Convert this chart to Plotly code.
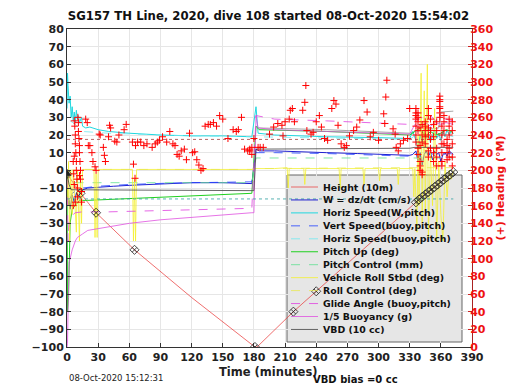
import numpy as np
import plotly.graph_objects as go

# ---------------- data ----------------
height_t = [0, 13, 28, 65, 120, 181, 183, 218, 260, 300, 340, 372]
height_v = [-2, -13, -24, -45, -72, -100, -100, -80, -58, -37, -16, -1]

marker_t = [0, 13, 28, 65, 181, 218, 240, 336, 339, 342, 345, 348, 351, 354, 357, 360, 363, 366, 369, 372]

w_t = [0, 1, 2, 3, 5, 7, 9, 11, 13, 15, 20, 30, 45, 60, 80, 100, 120, 150, 170, 178, 182, 185, 200, 220, 250,
       280, 310, 330, 333, 336, 338, 340, 342, 344, 346, 348, 350, 352, 354, 356, 358, 360, 362, 364, 366, 368, 370, 372]
w_v = [-2, -20, -17, -22, -14, -18, -13, -16, -12, -11, -10, -9.5, -9, -8.5, -8, -7.5, -7, -7, -7.5, -7.5, 12, 11, 11, 10.5, 10,
       9.5, 8.8, 8.5, 9, 11, 5, 10, 3, 9, 11, 8, 10, 6, 11, 9, 10, 5, 9, 10, 8, 11, 10, 9]

hs_w_t = [0, 0.5, 1, 2, 3, 4, 5, 6, 7, 8, 9, 10, 11, 12, 14, 15, 18, 22, 30, 40, 60, 90, 120, 150, 178, 182, 184,
          200, 250, 300, 330, 333, 336, 338, 340, 342, 344, 346, 348, 350, 352, 354, 356, 358, 360, 362, 364, 366, 368, 370, 372]
hs_w_v = [35, 55, 48, 38, 42, 30, 36, 28, 33, 27, 34, 29, 31, 27, 30, 25, 24, 24.5, 23, 22, 21, 20, 19.5, 19.5, 19, 36, 21,
          20, 19, 18.5, 18, 22, 17, 12, 20, 16, 22, 18, 21, 16, 20, 23, 18, 21, 17, 22, 19, 23, 20, 22, 21]

vs_b_t = [3, 5, 10, 15, 30, 60, 100, 140, 178, 182, 200, 250, 300, 330, 336, 340, 345, 350, 355, 360, 365, 372]
vs_b_v = [-16, -13, -11, -10, -9, -8, -7.2, -6.8, -6.5, 10, 10, 9.5, 8.8, 8, 10, 6, 9, 10, 8, 7, 10, 9]

hs_b_t = [3, 8, 15, 40, 100, 178, 183, 250, 330, 336, 342, 348, 354, 360, 366, 372]
hs_b_v = [28, 26, 22, 21, 19.8, 19, 19, 18, 17.5, 20, 15, 19, 21, 18, 20, 19]

pitch_t = [0, 0.5, 1.5, 3, 5, 8, 12, 20, 60, 120, 178, 182, 185, 250, 330, 335, 340, 345, 350, 355, 360, 365, 370, 372]
pitch_v = [0, -80, -72, -30, -22, -20, -17, -17, -16, -14.5, -13, 25, 23, 22, 20, 22, 24, 19, 22, 20, 21, 23, 22, 21]

pitch_ctl_t = [0, 2, 15, 178, 182, 330, 372]
pitch_ctl_v = [0, -7, -7, -7, 7, 7, 7]

roll_t = [0, 1, 1.5, 2.5, 3.5, 5, 6, 9, 10, 12, 13, 14, 15, 26, 27, 28, 29, 30, 63, 64, 65, 66, 67, 178, 182, 200,
          212, 213, 214, 228, 229, 230, 262, 263, 264, 285, 286, 287, 300, 301, 302, 318, 319, 320, 333, 334, 335,
          337, 338, 339, 341, 342, 344, 345, 347, 348, 350, 352, 354, 356, 358, 360, 362, 364, 366, 368, 370, 372]
roll_v = [0, -20, 5, -40, 0, -25, 0, -35, 0, -40, 0, -30, 0.5, 0.5, -38, -2, -38, 0.5, 0.5, -40, -5, -40, 0.5, 0.5, 1, 1,
          1.5, -10, 1, 1, -8, 1, 1, -10, 1, 1, -8, 1, 1, -6, 1, 1, -8, 1, 1, -15, 1,
          -35, 20, -20, 55, -30, 45, -25, 60, -38, 10, -20, 35, -40, 5, -25, -40, 5, -15, 0, -5, 0]

roll_ctl_t = [0, 15, 178, 182, 330, 372]
roll_ctl_v = [0, 0.5, 0.5, 1, 1.5, 1.5]

glide_t = [0, 1, 2, 4, 8, 15, 40, 100, 178, 182, 200, 250, 300, 330, 335, 340, 345, 350, 355, 360, 365, 370, 372]
glide_v = [-5, -40, -28, -26, -24, -23.5, -23.5, -22.5, -21.5, 31, 29, 28, 27, 26, 28, 30, 29, 31, 28, 30, 29, 28, 28]

buoy_t = [0, 0.5, 1, 1.5, 2, 3, 5, 8, 10, 15, 20, 30, 45, 60, 90, 120, 150, 178, 180, 182, 184, 200, 250, 300, 330,
          335, 340, 345, 350, 355, 360, 365, 370, 372]
buoy_v = [-100, -98, -80, -55, -52, -50, -45, -40, -38, -36, -34, -33, -31.5, -30, -28, -26.5, -25, -24, -24, 31, 24, 23,
          22, 21, 20.5, 26, 24, 27, 25, 27, 26, 27, 26, 26]

vbd_t = [0, 2, 4, 180, 182, 330, 335, 372]
vbd_v = [-2, -8, -11, -11.5, 12, 12.5, 13, 13]

gray_t = [184, 250, 330, 335, 358, 360, 372]
gray_v = [24, 23, 21, 22, 24, 33, 33.5]

ref_low_t = [0, 372]
ref_low_v = [-16.2, -16.2]
head_ref_t = [0, 372]
head_ref_deg = [235, 235]

head_t = [7, 7.5, 8, 8, 8.5, 9, 9, 9.5, 10, 10, 7, 6, 6.5, 7, 11, 11, 11.5, 12, 12, 12.5, 13, 13, 14, 14, 8, 6, 10.5, 12,
          18, 19.5, 20.5, 22, 24, 25, 27, 28, 31, 32, 35, 36, 37, 40, 41, 42, 46, 48, 50, 55, 57, 63, 64, 65.5, 66, 68,
          71, 74, 77, 82, 85, 87, 89, 92, 96, 99, 102, 104, 106, 108, 110, 113, 115, 118, 121, 123, 125, 127, 129,
          131, 133, 136, 138, 141, 144, 147, 150, 155, 160, 163, 165, 168, 171, 174, 176, 178, 180,
          176, 178, 184, 186, 189, 195, 199, 203, 207, 208, 210, 214, 215, 217, 219, 227, 229, 230, 231, 235, 237, 240,
          243, 245, 248, 251, 255, 257, 259, 261, 264, 267, 269, 272, 276, 279, 282, 286, 289, 292, 295, 300, 305,
          306, 307, 308, 314, 316, 317, 319, 321, 324, 328, 330,
          336, 336, 336, 336, 336, 336, 336, 338, 338, 338, 338, 338, 338, 340, 340, 340, 340, 340, 342, 342, 342,
          342, 342, 345, 345, 345, 345, 345, 348, 348, 348, 348, 348, 348, 350, 350, 350, 350, 353, 353, 353, 353,
          356, 356, 356, 356, 356, 359, 359, 359, 359, 359, 359, 359, 361, 361, 361, 361, 361, 361, 363, 363, 363,
          363, 366, 366, 366, 366, 368, 368, 368, 368, 368, 371, 371, 371, 371, 371]
head_deg = [256, 250, 240, 230, 220, 210, 200, 190, 180, 170, 216, 210, 196, 184, 254, 244, 236, 228, 220, 210, 200,
            190, 176, 164, 164, 160, 260, 194,
            258, 254, 228, 228, 220, 210, 204, 200, 241, 240, 226, 217, 210, 238, 251, 248, 233, 232, 240, 246, 252,
            232, 207, 191, 228, 232, 232, 228, 230, 226, 230, 232, 234, 238, 232, 244, 230, 228, 218, 216, 222, 224,
            212, 242, 220, 221, 212, 206, 200, 202, 250, 252, 252, 254, 250, 262, 258, 236, 246, 244, 246, 260, 224,
            222, 222, 218, 236,
            224, 226, 226, 226, 226, 241, 249, 253, 251, 239, 255, 258, 268, 270, 255, 268, 277, 296, 245, 241, 243,
            255, 262, 249, 236, 234, 270, 279, 275, 251, 230, 226, 228, 239, 245, 249, 257, 279, 266, 238, 243, 234,
            264, 253, 283, 302, 247, 241, 226, 222, 230, 234, 236, 270,
            250, 258, 262, 265, 270, 240, 232, 225, 218, 245, 255, 265, 260, 210, 205, 200, 228, 248, 195, 198, 232,
            240, 252, 230, 238, 245, 250, 255, 215, 222, 240, 248, 262, 270, 225, 235, 245, 258, 210, 220, 238, 252,
            205, 215, 225, 245, 255, 260, 270, 278, 284, 280, 272, 265, 250, 240, 230, 220, 210, 205, 230, 245, 255,
            262, 212, 220, 228, 235, 215, 225, 240, 250, 258, 205, 215, 230, 245, 255]

x_ticks = list(range(0, 391, 30))
y_ticks = list(range(-100, 81, 10))
y2_ticks = list(range(0, 361, 20))

title_text = "SG157 TH Line, 2020, dive 108 started 08-Oct-2020 15:54:02"
x_title = "Time (minutes)"
stamp_text = "08-Oct-2020 15:12:31"
bias_text = "VBD bias =0 cc"
y2_title = "(+) Heading (°M)"

# ---------------- figure ----------------
FONT = "DejaVu Sans"
fig = go.Figure()
legend_entries = []


def line(t, v, name, color, dash="solid", width=0.8, show=True, yaxis="y"):
    fig.add_trace(go.Scatter(x=t, y=v, mode="lines", name=name, showlegend=False, yaxis=yaxis,
                             line=dict(color=color, width=width, dash=dash), hoverinfo="skip"))
    if show:
        legend_entries.append((name, color, dash, width))


line(gray_t, gray_v, "aux", "#909090", show=False)
line(height_t, height_v, "Height (10m)", "#e83030", width=0.7)
line(w_t, w_v, "W = dz/dt (cm/s)", "#2020d0", width=1.0)
line(hs_w_t, hs_w_v, "Horiz Speed(W,pitch)", "#20d8e0", width=1.0)
line(vs_b_t, vs_b_v, "Vert Speed(buoy,pitch)", "#2040ff", dash="dash")
line(hs_b_t, hs_b_v, "Horiz Speed(buoy,pitch)", "#70e8f0", dash="dash")
line(pitch_t, pitch_v, "Pitch Up (deg)", "#20d020", width=1.0)
line(pitch_ctl_t, pitch_ctl_v, "Pitch Control (mm)", "#60e090", dash="dash")
line(roll_t, roll_v, "Vehicle Roll Stbd (deg)", "#f4f030", width=0.8)
line(roll_ctl_t, roll_ctl_v, "Roll Control (deg)", "#e8e850", dash="dash")
line(glide_t, glide_v, "Glide Angle (buoy,pitch)", "#e040e0", dash="dash")
line(buoy_t, buoy_v, "1/5 Buoyancy (g)", "#e050e0")
line(vbd_t, vbd_v, "VBD (10 cc)", "#404040")
line(ref_low_t, ref_low_v, "ref", "#30a0a0", dash="dot", show=False)

# heading (right axis)
fig.add_trace(go.Scatter(x=head_ref_t, y=head_ref_deg, mode="lines", yaxis="y2", showlegend=False,
                         line=dict(color="#a04040", width=0.8, dash="dot"), hoverinfo="skip"))
fig.add_trace(go.Scatter(x=head_t, y=head_deg, mode="markers", yaxis="y2", showlegend=False,
                         marker=dict(symbol="cross-thin-open", size=5, color="#ff0000",
                                     line=dict(color="#ff0000", width=1)),
                         hoverinfo="skip"))

# markers on the height line
mk_v = np.interp(marker_t, height_t, height_v)
fig.add_trace(go.Scatter(x=marker_t, y=mk_v, mode="markers", showlegend=False,
                         marker=dict(symbol="diamond-x-open", size=7, color="#202020",
                                     line=dict(color="#202020", width=0.8)), hoverinfo="skip"))
fig.add_trace(go.Scatter(x=marker_t[:1], y=mk_v[:1], mode="markers", showlegend=False,
                         marker=dict(symbol="triangle-up", size=8, color="#202020"), hoverinfo="skip"))

# ---------------- geometry (page has an 8px body margin) ----------------
OFF = 8
W, H = 520 - OFF, 390 - OFF
ML, MR, MT, MB = 67 - OFF, 48, 29 - OFF, 43
PW, PH = W - ML - MR, H - MT - MB


def px_x(px):  # window pixel -> paper fraction
    return (px - OFF - ML) / PW


def px_y(py):
    return (H - MB - (py - OFF)) / PH


box_l, box_r, box_t, box_b = 287, 462, 175, 342
row0, row_step = 187, 12.95
shapes = [dict(type="rect", xref="paper", yref="paper", x0=px_x(box_l), x1=px_x(box_r),
               y0=px_y(box_b), y1=px_y(box_t), fillcolor="#e6e6e6",
               line=dict(color="#666", width=1), layer="between")]
annotations = []
for i, (name, color, dash, width) in enumerate(legend_entries):
    yy = px_y(row0 + i * row_step)
    shapes.append(dict(type="line", xref="paper", yref="paper", x0=px_x(291), x1=px_x(318), y0=yy, y1=yy,
                       line=dict(color=color, width=width, dash=dash), layer="above"))
    annotations.append(dict(text="<b>" + name + "</b>", xref="paper", yref="paper", x=px_x(321), y=yy,
                            xanchor="left", yanchor="middle", showarrow=False,
                            font=dict(size=9.4, color="#111", family=FONT)))

annotations += [
    dict(text="<b>" + x_title + "</b>", xref="paper", yref="paper", x=px_x(268), y=px_y(372),
         xanchor="center", yanchor="middle", showarrow=False, font=dict(size=11.5, color="#222", family=FONT)),
    dict(text=stamp_text, xref="paper", yref="paper", x=px_x(67), y=px_y(378), xanchor="left",
         yanchor="middle", showarrow=False, font=dict(size=8.5, color="#222", family=FONT)),
    dict(text="<b>" + bias_text + "</b>", xref="paper", yref="paper", x=px_x(355), y=px_y(379),
         xanchor="center", yanchor="middle", showarrow=False, font=dict(size=10, color="#111", family=FONT)),
]

grid = "#e6e6e6"
fig.update_layout(
    width=W, height=H,
    margin=dict(l=ML, r=MR, t=MT, b=MB),
    paper_bgcolor="white", plot_bgcolor="white",
    font=dict(family=FONT, size=11, color="#222"),
    title=dict(text="<b>" + title_text + "</b>", x=(268.5 - OFF) / W, xanchor="center",
               y=1 - (16 - OFF) / H, yanchor="middle", font=dict(size=11.7, color="#111")),
    xaxis=dict(range=[0, 390], tickvals=x_ticks, ticks="inside", ticklen=4, tickcolor="#333",
               showgrid=True, gridcolor=grid, gridwidth=1, zeroline=False,
               showline=True, linecolor="#333", linewidth=1, mirror=True,
               tickfont=dict(size=11, color="#222", family=FONT, weight="bold")),
    yaxis=dict(range=[-100, 80], tickvals=y_ticks, ticks="inside", ticklen=4, tickcolor="#333",
               showgrid=True, gridcolor=grid, gridwidth=1, zeroline=False,
               showline=True, linecolor="#333", linewidth=1, mirror=False,
               tickfont=dict(size=11, color="#222", family=FONT, weight="bold")),
    yaxis2=dict(range=[0, 360], tickvals=y2_ticks, overlaying="y", side="right", ticks="inside", ticklen=4,
                tickcolor="#cc2222", showgrid=False, zeroline=False, showline=True, linecolor="#aa2222",
                linewidth=1, ticklabelstandoff=-5, automargin=False,
                tickfont=dict(size=11, color="#ee1111", family=FONT, weight="bold"),
                title=dict(text="<b>" + y2_title + "</b>", standoff=0,
                           font=dict(size=11, color="#ee1111", family=FONT))),
    showlegend=False,
    shapes=shapes,
    annotations=annotations,
)

fig.write_html("out.html")
